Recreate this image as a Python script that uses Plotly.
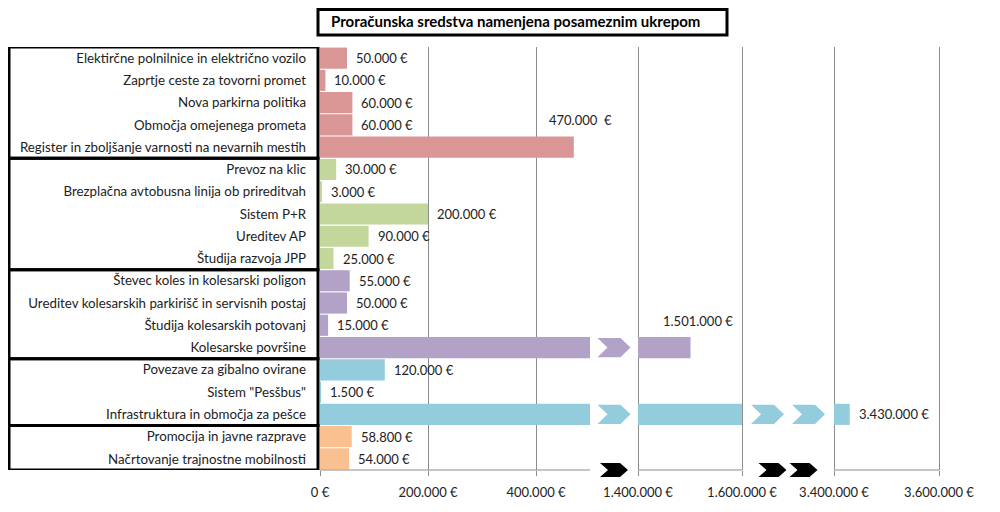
import plotly.graph_objects as go

# ---------------- data ----------------
categories = [
    "Elektirčne polnilnice in električno vozilo",
    "Zaprtje ceste za tovorni promet",
    "Nova parkirna politika",
    "Območja omejenega prometa",
    "Register in zboljšanje varnosti na nevarnih mestih",
    "Prevoz na klic",
    "Brezplačna avtobusna linija ob prireditvah",
    "Sistem P+R",
    "Ureditev AP",
    "Študija razvoja JPP",
    "Števec koles in kolesarski poligon",
    "Ureditev kolesarskih parkirišč in servisnih postaj",
    "Študija kolesarskih potovanj",
    "Kolesarske površine",
    "Povezave za gibalno ovirane",
    "Sistem \"Pesšbus\"",
    "Infrastruktura in območja za pešce",
    "Promocija in javne razprave",
    "Načrtovanje trajnostne mobilnosti",
]
values = [50000, 10000, 60000, 60000, 470000,
          30000, 3000, 200000, 90000, 25000,
          55000, 50000, 15000, 1501000,
          120000, 1500, 3430000,
          58800, 54000]
value_labels = ["50.000 €", "10.000 €", "60.000 €", "60.000 €", "470.000  €",
                "30.000 €", "3.000 €", "200.000 €", "90.000 €", "25.000 €",
                "55.000 €", "50.000 €", "15.000 €", "1.501.000 €",
                "120.000 €", "1.500 €", "3.430.000 €",
                "58.800 €", "54.000 €"]
groups = [0, 0, 0, 0, 0, 1, 1, 1, 1, 1, 2, 2, 2, 2, 3, 3, 3, 4, 4]
tick_values = [0, 200000, 400000, 1400000, 1600000, 3400000, 3600000]
tick_labels = ["0 €", "200.000 €", "400.000 €", "1.400.000 €",
               "1.600.000 €", "3.400.000 €", "3.600.000 €"]

# ---------------- style ----------------
group_colors = ["#D99694", "#C3D69B", "#B3A2C7", "#93CDDD", "#FAC090"]
FONT = "Lato"
GRID = "#8c8c8c"
labels_above = {4, 13}   # labels drawn above the bar end

# broken value axis: (value start, value end, display start, px per 200k)
SEGMENTS = [(0, 500000, 0, 108), (1400000, 1600000, 318, 104),
            (3400000, 3600000, 514, 105)]

PLOT_W = 640.0
PLOT_H = 423.0
ML, MT = 312, 39   # page has an 8px body margin


def to_display(v):
    seg = [s for s in SEGMENTS if s[0] <= v][-1]
    v0, v1, d0, k = seg
    return d0 + (v - v0) * k / 200000.0


def px_x(px):   # page pixel -> paper x
    return (px - 8 - ML) / PLOT_W


def px_y(py):   # page pixel -> paper y
    return (8 + MT + PLOT_H - py) / PLOT_H


rows = list(range(len(categories)))
colors = [group_colors[g] for g in groups]

fig = go.Figure()

# bar pieces for each axis segment
for si, (v0, v1, d0, k) in enumerate(SEGMENTS):
    ys, xs, bases, cols = [], [], [], []
    for r, v in zip(rows, values):
        if v > v0 or (si == 0 and v > 0):
            start = to_display(v0)
            end = to_display(min(v, v1))
            ys.append(r)
            bases.append(start)
            xs.append(end - start)
            cols.append(colors[r])
    fig.add_trace(go.Bar(y=ys, x=xs, base=bases, orientation="h",
                         marker=dict(color=cols, line=dict(width=0)),
                         width=0.95, showlegend=False, hoverinfo="skip"))

shapes = []


def chevron(x0, w, t, yc, h, xref, yref, color):
    path = (f"M {x0},{yc + h} L {x0 + w - t},{yc + h} L {x0 + w},{yc} "
            f"L {x0 + w - t},{yc - h} L {x0},{yc - h} L {x0 + t},{yc} Z")
    return dict(type="path", path=path, xref=xref, yref=yref,
                fillcolor=color, line=dict(width=0), layer="above")


# gaps between segments: chevrons in bars and on the axis
for i in range(len(SEGMENTS) - 1):
    g0 = to_display(SEGMENTS[i][1])
    g1 = SEGMENTS[i + 1][2]
    W = g1 - g0
    n = max(1, round(W / 45))
    total = 33 + (n - 1) * 41
    s = g0 + (W - total) / 2
    for r, v in zip(rows, values):
        if v > SEGMENTS[i][1]:
            for j in range(n):
                shapes.append(chevron(s + j * 41, 33, 10, r, 0.43, "x", "y", colors[r]))
    total = 28 + (n - 1) * 31
    s = g0 + (W - total) / 2
    for j in range(n):
        x0 = (s + j * 31) / PLOT_W
        shapes.append(chevron(x0, 28 / PLOT_W, 8 / PLOT_W, 0.0, 7 / PLOT_H,
                              "paper", "paper", "black"))

# axis line segments
for v0, v1, d0, k in SEGMENTS:
    shapes.append(dict(type="line", xref="x", yref="paper",
                       x0=to_display(v0), x1=to_display(v1), y0=0, y1=0,
                       line=dict(color=GRID, width=1)))

# group boxes around the category labels
bounds = []
start = 0
for i in range(1, len(groups) + 1):
    if i == len(groups) or groups[i] != groups[i - 1]:
        bounds.append((start, i - 1))
        start = i
for a, b in bounds:
    shapes.append(dict(type="rect", xref="paper", yref="y",
                       x0=px_x(9), x1=px_x(318),
                       y0=a - 0.5, y1=b + 0.5,
                       line=dict(color="black", width=3), fillcolor="rgba(0,0,0,0)"))

# title box
shapes.append(dict(type="rect", xref="paper", yref="paper",
                   x0=px_x(318), x1=px_x(727), y0=px_y(35), y1=px_y(9.6),
                   line=dict(color="black", width=3), fillcolor="white"))

annotations = [dict(text="<b>Proračunska sredstva namenjena posameznim ukrepom</b>",
                    xref="paper", yref="paper", x=px_x(515), y=px_y(21.5),
                    xanchor="center", yanchor="middle", showarrow=False,
                    font=dict(family=FONT, size=15, color="black"))]

for r, v, lab in zip(rows, values, value_labels):
    d = to_display(v)
    if r in labels_above:
        annotations.append(dict(text=lab, x=d, y=r, xref="x", yref="y",
                                xanchor="center", yanchor="middle",
                                xshift=7, yshift=27, showarrow=False,
                                font=dict(family=FONT, size=13, color="#222")))
    else:
        annotations.append(dict(text=lab, x=d, y=r, xref="x", yref="y",
                                xanchor="left", yanchor="middle",
                                xshift=7, showarrow=False,
                                font=dict(family=FONT, size=13, color="#222")))

fig.update_layout(
    width=ML + int(PLOT_W) + 40, height=MT + int(PLOT_H) + 34,
    margin=dict(l=ML, r=40, t=MT, b=34),
    paper_bgcolor="white", plot_bgcolor="white",
    barmode="overlay", bargap=0.05,
    shapes=shapes, annotations=annotations,
    font=dict(family=FONT, color="#222"),
)
fig.update_xaxes(range=[0, PLOT_W], tickmode="array",
                 tickvals=[to_display(v) for v in tick_values],
                 ticktext=tick_labels, showgrid=True, gridcolor=GRID,
                 gridwidth=1, ticks="outside", ticklen=5, tickcolor=GRID,
                 showline=False, zeroline=False, ticklabelstandoff=5,
                 automargin=False,
                 tickfont=dict(family=FONT, size=13, color="#222"))
fig.update_yaxes(range=[18.5, -0.5], tickmode="array", tickvals=rows,
                 ticktext=categories, showgrid=False, zeroline=False,
                 showline=False, ticks="", ticklabelstandoff=13,
                 automargin=False,
                 tickfont=dict(family=FONT, size=13.3, color="#222"))

fig.write_html("out.html")
